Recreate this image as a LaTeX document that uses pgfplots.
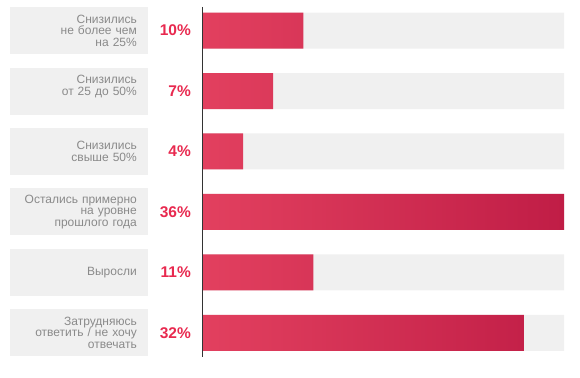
\documentclass[border=0pt]{standalone}
\usepackage{pgfplots}
\usepackage{pgfplotstable}
\pgfplotsset{compat=1.18}
\usepackage{fontspec}
\setmainfont{Liberation Sans}
\definecolor{boxgray}{HTML}{F0F0F0}
\definecolor{labgray}{HTML}{8A8A8A}
\definecolor{pctpink}{HTML}{E8294F}
\definecolor{barL}{HTML}{E2405F}
\definecolor{barR}{HTML}{C01D46}
\definecolor{axisline}{HTML}{333333}

\pgfplotstableread{
y val full zero
0 10 36 0
1 7 36 0
2 4 36 0
3 36 36 0
4 11 36 0
5 32 36 0
}\datatable

\begin{document}
\begin{tikzpicture}
\begin{axis}[
  scale only axis, width=361pt, height=350pt,
  xmin=0, xmax=36, ymin=-0.39, ymax=5.4, y dir=reverse,
  separate axis lines,
  axis x line=none, axis y line*=left,
  axis line style={draw=axisline, line width=1pt},
  axis on top,
  /pgf/number format/assume math mode=true,
  ytick={0,1,2,3,4,5},
  yticklabels={{Снизились\\не более чем\\на 25\%},{Снизились\\от 25 до 50\%\\\mbox{}},{Снизились\\свыше 50\%},{Остались примерно\\на уровне\\прошлого года},{Выросли},{Затрудняюсь\\ответить / не хочу\\отвечать}},
  ytick style={draw=none},
  major tick length=0pt,
  yticklabel style={anchor=east, xshift=-55pt, fill=boxgray, minimum height=47pt,
    text width=116pt, inner xsep=11pt, align=right,
    font=\fontsize{12}{11.6}\selectfont, text=labgray},
  clip=false,
]
\addplot[xbar, bar width=36pt, bar shift=0pt, fill=boxgray, draw=none] table[x=full, y=y]{\datatable};
\addplot[xbar, bar width=36pt, bar shift=0pt, draw=none, left color=barL, right color=barR] table[x=val, y=y]{\datatable};
\addplot[draw=none, mark=none, point meta=explicit,
  nodes near coords={\pgfmathprintnumber[assume math mode=true]{\pgfplotspointmeta}\%},
  every node near coord/.append style={anchor=east, xshift=-12pt, inner sep=0pt,
    font=\fontsize{15.5}{15.5}\bfseries\selectfont, text=pctpink}]
  table[x=zero, y=y, meta=val]{\datatable};
\end{axis}
\pgfresetboundingbox
\path ([xshift=-203pt,yshift=-20pt]current axis.south west) rectangle ([xshift=16pt,yshift=7pt]current axis.north east);
\end{tikzpicture}
\end{document}
